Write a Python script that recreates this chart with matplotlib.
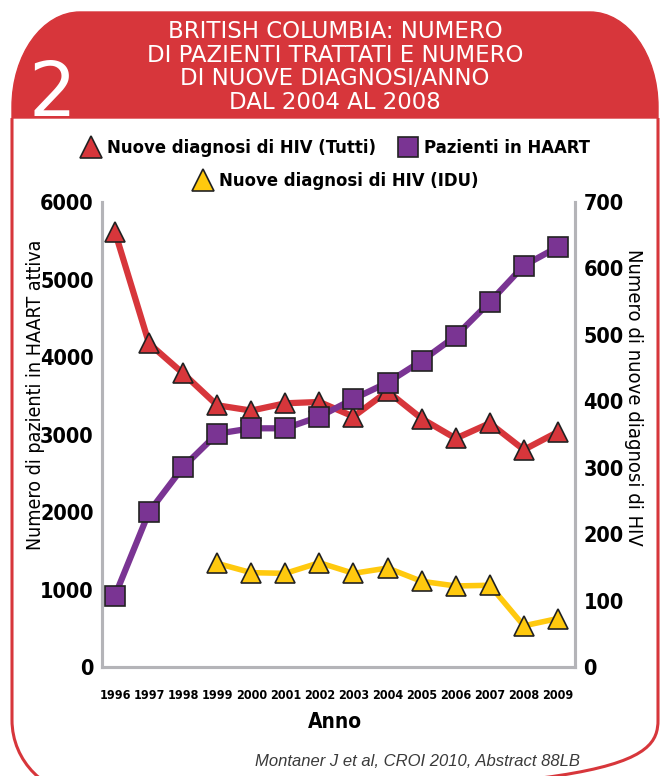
import matplotlib
matplotlib.use('Agg')
import matplotlib.pyplot as plt
from matplotlib.path import Path
from matplotlib.patches import PathPatch
from matplotlib.lines import Line2D
from matplotlib.font_manager import FontProperties

# ---------------- data ----------------
years = [1996, 1997, 1998, 1999, 2000, 2001, 2002, 2003, 2004, 2005, 2006, 2007, 2008, 2009]
haart = [920, 2000, 2580, 3010, 3080, 3080, 3230, 3460, 3670, 3950, 4270, 4710, 5180, 5420]
new_all = [655, 487, 442, 394, 386, 397, 399, 377, 415, 374, 344, 367, 327, 354]
idu_years = [1999, 2000, 2001, 2002, 2003, 2004, 2005, 2006, 2007, 2008, 2009]
new_idu = [156, 142, 141, 157, 141, 149, 129, 122, 123, 62, 73]
left_ticks = [0, 1000, 2000, 3000, 4000, 5000, 6000]
right_ticks = [0, 100, 200, 300, 400, 500, 600, 700]

title_lines = ["BRITISH COLUMBIA: NUMERO", "DI PAZIENTI TRATTATI E NUMERO",
               "DI NUOVE DIAGNOSI/ANNO", "DAL 2004 AL 2008"]
lab_all = "Nuove diagnosi di HIV (Tutti)"
lab_haart = "Pazienti in HAART"
lab_idu = "Nuove diagnosi di HIV (IDU)"

RED = '#D7363B'
PURPLE = '#7A3493'
YELLOW = '#FFC90E'
GRAY = '#B4B4B8'
EDGE = '#222222'


def cfont(size, weight='normal'):
    return FontProperties(family='DejaVu Sans', stretch='condensed', weight=weight, size=size)


W, H = 670, 776
fig = plt.figure(figsize=(W / 100, H / 100), dpi=100)

# ---------------- background frame (pixel coordinates) ----------------
bg = fig.add_axes([0, 0, 1, 1])
bg.set_xlim(0, W)
bg.set_ylim(H, 0)
bg.axis('off')

k = 0.5523
x0, x1 = 12, 658
ytop, yhead = 12, 118
rx, ry = 68, 95
head = Path([
    (x0, yhead), (x0, ytop + ry),
    (x0, ytop + ry - k * ry), (x0 + rx - k * rx, ytop), (x0 + rx, ytop),
    (x1 - rx, ytop),
    (x1 - rx + k * rx, ytop), (x1, ytop + ry - k * ry), (x1, ytop + ry),
    (x1, yhead), (x0, yhead)],
    [Path.MOVETO, Path.LINETO,
     Path.CURVE4, Path.CURVE4, Path.CURVE4,
     Path.LINETO,
     Path.CURVE4, Path.CURVE4, Path.CURVE4,
     Path.LINETO, Path.CLOSEPOLY])
bg.add_patch(PathPatch(head, facecolor=RED, edgecolor=RED, lw=1))

ybot, R = 795, 75
outline = Path([
    (x0, yhead), (x0, ybot - R),
    (x0, ybot - R + k * R), (x0 + R - k * R, ybot), (x0 + R, ybot),
    (x1 - R, ybot),
    (x1 - R + k * R, ybot), (x1, ybot - R + k * R), (x1, ybot - R),
    (x1, yhead)],
    [Path.MOVETO, Path.LINETO,
     Path.CURVE4, Path.CURVE4, Path.CURVE4,
     Path.LINETO,
     Path.CURVE4, Path.CURVE4, Path.CURVE4,
     Path.LINETO])
bg.add_patch(PathPatch(outline, facecolor='none', edgecolor=RED, lw=2.2))

for i, t in enumerate(title_lines):
    bg.text(335, 32 + i * 23.4, t, color='white', fontsize=16.5, ha='center', va='center',
            family='DejaVu Sans')
bg.text(52, 95, "2", color='white', fontsize=54, ha='center', va='center', family='DejaVu Sans')

bg.text(335, 722, "Anno", fontproperties=cfont(15, 'bold'), ha='center', va='center')
bg.text(580, 762, "Montaner J et al, CROI 2010, Abstract 88LB", fontsize=12, style='italic',
        ha='right', va='center', color='#3a3a3a', family=['Liberation Sans', 'DejaVu Sans'])

# ---------------- chart ----------------
ax = fig.add_axes([102 / W, 1 - 667 / H, (575 - 102) / W, 465 / H])
ax2 = ax.twinx()

l_idu, = ax2.plot(idu_years, new_idu, color=YELLOW, lw=4, marker='^', ms=15,
                  mfc=YELLOW, mec=EDGE, mew=1.2, zorder=2)
l_all, = ax2.plot(years, new_all, color=RED, lw=4.5, marker='^', ms=15,
                  mfc=RED, mec=EDGE, mew=1.2, zorder=3)
l_haart, = ax.plot(years, haart, color=PURPLE, lw=4.5, marker='s', ms=14,
                   mfc=PURPLE, mec=EDGE, mew=1.2, zorder=4)
ax.set_zorder(ax2.get_zorder() + 1)
ax.patch.set_visible(False)

ax.set_xlim(1995.62, 2009.5)
ax.set_ylim(0, 6000)
ax2.set_ylim(0, 700)
ax.set_xticks(years)
ax.set_xticklabels([str(y) for y in years], fontproperties=cfont(9, 'bold'))
ax.set_yticks(left_ticks)
ax.set_yticklabels([str(v) for v in left_ticks], fontproperties=cfont(15.5, 'bold'))
ax2.set_yticks(right_ticks)
ax2.set_yticklabels([str(v) for v in right_ticks], fontproperties=cfont(15.5, 'bold'))
ax.tick_params(axis='x', length=0, pad=16)
ax.tick_params(axis='y', length=0, pad=6)
ax2.tick_params(axis='y', length=0, pad=6)

for a in (ax, ax2):
    a.spines['top'].set_visible(False)
    for s in ('left', 'right', 'bottom'):
        a.spines[s].set_color(GRAY)
        a.spines[s].set_linewidth(2.2)

ax.set_ylabel("Numero di pazienti in HAART attiva", fontproperties=cfont(14))
ax.yaxis.set_label_coords((45 - 102) / 473, 1 - (395 - 202) / 465)
ax2.set_ylabel("Numero di nuove diagnosi di HIV", fontproperties=cfont(14.5), rotation=-90)
ax2.yaxis.set_label_coords((643 - 102) / 473, 1 - (397 - 202) / 465)

# ---------------- legend ----------------
h_all = Line2D([], [], ls='none', marker='^', ms=16, mfc=RED, mec=EDGE, mew=1.2)
h_haart = Line2D([], [], ls='none', marker='s', ms=15, mfc=PURPLE, mec=EDGE, mew=1.2)
h_idu = Line2D([], [], ls='none', marker='^', ms=16, mfc=YELLOW, mec=EDGE, mew=1.2)
leg_font = cfont(13.2, 'bold')
leg1 = fig.legend([h_all, h_haart], [lab_all, lab_haart], ncol=2, loc='center',
                  bbox_to_anchor=(336 / W, 1 - 148 / H), frameon=False, prop=leg_font,
                  handlelength=1.0, handletextpad=0.4, columnspacing=1.2, borderpad=0)
leg2 = fig.legend([h_idu], [lab_idu], loc='center', bbox_to_anchor=(336 / W, 1 - 181 / H),
                  frameon=False, prop=leg_font, handlelength=1.0, handletextpad=0.4, borderpad=0)

fig.savefig('out.png', dpi=100)
